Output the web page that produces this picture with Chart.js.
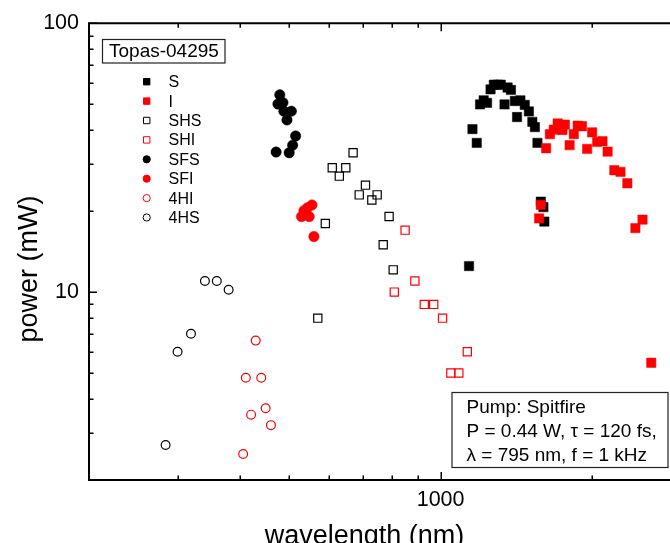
<!DOCTYPE html>
<html><head><meta charset="utf-8">
<script src="https://cdn.jsdelivr.net/npm/chart.js@4.4.1/dist/chart.umd.min.js"></script>
<style>html,body{margin:0;padding:0;background:#fff;overflow:hidden}#wrap{position:relative;width:670px;height:543px}</style>
</head><body><div id="wrap"><canvas id="c" width="670" height="543"></canvas></div>
<script>
// ---- data (wavelength nm, power mW) ----
const sWl = [1139,1157,1180,1198,1218,1237,1257,1276,1299,1317,1340,1359,1380,1405,1441,1419,1470,1498,1522,1540,1558,1582,1601,1608];
const sP  = [12.5,40.4,35.9,49.9,51.7,50.6,56.8,59.1,59.1,59.1,49.9,57.7,56.5,51.4,51.7,44.8,49.7,47.0,43.0,41.1,35.9,21.7,20.7,18.3];
const iWl = [1570,1582,1621,1649,1679,1709,1746,1766,1805,1840,1873,1910,1956,2001,2048,2098,2148,2215,2278,2351,2439,2520,2623];
const iP  = [18.8,21.1,34.3,38.7,40.2,42.4,40.1,42.0,35.2,38.7,41.6,41.4,34.1,39.3,36.2,36.4,33.3,28.4,28.0,25.4,17.3,18.6,5.46];
const shsWl = [570,590,609,629,648,670,689,709,730,748,769,790,805];
const shsP  = [8.0,18.0,29.0,27.0,29.0,33.0,23.0,25.0,22.0,23.0,15.0,19.1,12.1];
const shiWl = [809,850,889,928,969,1009,1048,1087,1130];
const shiP  = [10.0,17.0,11.0,9.0,9.0,8.0,5.0,5.0,6.0];
const sfsWl = [471,475,479,486,488,495,500,505,508,515];
const sfsP  = [33.2,50.1,54.2,50.7,47.1,43.7,33.0,47.1,35.2,38.1];
const sfiWl = [529,535,544,548,555,560];
const sfiP  = [19.1,20.1,20.6,19.1,21.1,16.1];
const hi4Wl = [405,410,420,429,440,449,460];
const hi4P  = [2.5,4.8,3.5,6.6,4.8,3.7,3.2];
const hs4Wl = [284,300,319,340,359,379];
const hs4P  = [2.7,6.0,7.0,11.0,11.0,10.2];

const xTicks = [300,400,500,600,700,800,900,1000,2000];
const xLabels = [1000];
const yTicks = [3,4,5,6,7,8,9,10,20,30,40,50,60,70,80,90,100];
const yLabels = [10,100];

const xTitle = 'wavelength (nm)';
const yTitle = 'power (mW)';
const boxTitle = 'Topas-04295';
const pumpLines = ['Pump: Spitfire','P = 0.44 W, \u03C4 = 120 fs,','\u03BB = 795 nm, f = 1 kHz'];

const FONT = '"Liberation Sans", Arial, sans-serif';
const pts = (xs, ys) => xs.map((v, i) => ({x: v, y: ys[i]}));

function ds(label, xs, ys, style, color, filled, r, order) {
  return {label, data: pts(xs, ys), pointStyle: style, pointRadius: r, pointHoverRadius: r,
    backgroundColor: filled ? color : 'rgba(0,0,0,0)', borderColor: color,
    borderWidth: filled ? 0.5 : 1.2, showLine: false, order};
}

const datasets = [
  ds('S',   sWl,  sP,  'rect',   '#000000', true,  6.6, 2),
  ds('I',   iWl,  iP,  'rect',   '#ff0000', true,  6.6, 1),
  ds('SHS', shsWl, shsP, 'rect', '#000000', false, 5.8, 3),
  ds('SHI', shiWl, shiP, 'rect', '#ff0000', false, 5.8, 3),
  ds('SFS', sfsWl, sfsP, 'circle','#000000', true,  5.2, 3),
  ds('SFI', sfiWl, sfiP, 'circle','#ff0000', true,  5.2, 3),
  ds('4HI', hi4Wl, hi4P, 'circle','#ff0000', false, 4.4, 3),
  ds('4HS', hs4Wl, hs4P, 'circle','#000000', false, 4.4, 3)
];

const deco = {
  id: 'deco',
  afterDraw(chart) {
    const {ctx, chartArea: a, scales: {x, y}} = chart;
    ctx.save();
    ctx.strokeStyle = '#000';
    ctx.lineCap = 'square';
    ctx.lineWidth = 2;
    ctx.beginPath();
    ctx.moveTo(a.left, a.top); ctx.lineTo(a.right + 2, a.top);
    ctx.moveTo(a.left, a.top); ctx.lineTo(a.left, a.bottom);
    ctx.lineTo(a.right + 2, a.bottom);
    ctx.stroke();
    ctx.lineCap = 'butt';
    ctx.lineWidth = 1.5;
    ctx.beginPath();
    x.ticks.forEach(t => {
      const px = Math.round(x.getPixelForValue(t.value)) + 0.25;
      const L = xLabels.includes(t.value) ? 8 : 4.5;
      ctx.moveTo(px, a.bottom); ctx.lineTo(px, a.bottom - L);
      ctx.moveTo(px, a.top); ctx.lineTo(px, a.top + L);
    });
    y.ticks.forEach(t => {
      const py = Math.round(y.getPixelForValue(t.value)) + 0.25;
      const L = yLabels.includes(t.value) ? 8 : 4.5;
      ctx.moveTo(a.left, py); ctx.lineTo(a.left + L, py);
    });
    ctx.stroke();

    // axis titles
    ctx.fillStyle = '#000';
    ctx.textBaseline = 'middle';
    ctx.textAlign = 'center';
    ctx.font = '27px ' + FONT;
    ctx.fillText(xTitle, 364.5, 536.5);
    ctx.save();
    ctx.translate(29.5, 269);
    ctx.rotate(-Math.PI / 2);
    ctx.fillText(yTitle, 0, 0);
    ctx.restore();

    // Topas box
    ctx.lineWidth = 1.2;
    ctx.strokeStyle = '#222';
    ctx.strokeRect(102.5, 39.5, 122.5, 23.5);
    ctx.fillStyle = '#000';
    ctx.textAlign = 'left';
    ctx.font = '19px ' + FONT;
    ctx.fillText(boxTitle, 109, 52);

    // legend
    ctx.font = '16px ' + FONT;
    chart.data.datasets.forEach((d, i) => {
      const cy = 81.7 + i * 19.4, cx = 146.7;
      ctx.fillStyle = d.backgroundColor;
      ctx.strokeStyle = d.borderColor;
      ctx.lineWidth = 1;
      ctx.beginPath();
      if (d.pointStyle === 'rect') {
        const h = 3.2;
        ctx.rect(cx - h, cy - h, 2 * h, 2 * h);
      } else {
        ctx.arc(cx, cy, 3.6, 0, Math.PI * 2);
      }
      ctx.fill(); ctx.stroke();
      ctx.fillStyle = '#000';
      ctx.fillText(d.label, 168.5, cy + 1);
    });

    // pump box
    ctx.strokeStyle = '#222';
    ctx.lineWidth = 1.2;
    ctx.strokeRect(452, 392.5, 216, 75);
    ctx.fillStyle = '#000';
    ctx.font = '19px ' + FONT;
    [407.6, 431.5, 456].forEach((yy, i) => ctx.fillText(pumpLines[i], 466.5, yy));
    ctx.restore();
  }
};

new Chart(document.getElementById('c'), {
  type: 'scatter',
  data: {datasets},
  options: {
    responsive: false, animation: false, devicePixelRatio: 1,
    layout: {autoPadding: false, padding: {top: 23.3, left: 0, right: 0, bottom: 0}},
    plugins: {legend: {display: false}, tooltip: {enabled: false}},
    scales: {
      x: {
        type: 'logarithmic', min: 200, max: 2858, position: 'bottom',
        afterBuildTicks: s => { s.ticks = xTicks.map(v => ({value: v})); },
        afterFit: s => { s.height = 63; },
        grid: {display: false, drawTicks: false},
        border: {display: false},
        ticks: {autoSkip: false, maxRotation: 0, minRotation: 0, padding: 0, color: '#000',
          font: {family: FONT, size: 21.5, lineHeight: 1.86},
          callback: v => xLabels.includes(v) ? String(v) : ''},
        title: {display: false}
      },
      y: {
        type: 'logarithmic', min: 2, max: 100, position: 'left',
        afterBuildTicks: s => { s.ticks = yTicks.map(v => ({value: v})); },
        afterFit: s => { s.width = 89; },
        grid: {display: false, drawTicks: false},
        border: {display: false},
        ticks: {autoSkip: false, padding: 10, color: '#000',
          font: {family: FONT, size: 21.5},
          callback: v => yLabels.includes(v) ? String(v) : ''},
        title: {display: false}
      }
    }
  },
  plugins: [deco]
});
</script></body></html>
